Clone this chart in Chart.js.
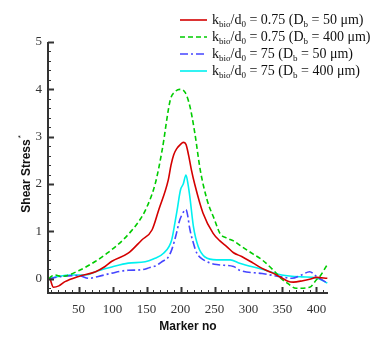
<!DOCTYPE html>
<html lang="en">
<head>
<meta charset="UTF-8">
<title>Shear Stress vs Marker no</title>
<script src="https://cdn.jsdelivr.net/npm/chart.js"></script>
<style>
    body { margin: 0; background: #fff; }
    .chart-box { position: relative; width: 374px; height: 341px; }
</style>
</head>
<body>
<div class="chart-box">
    <canvas id="shearChart" width="374" height="341"></canvas>
</div>

<script>
// series values
const redX = [8, 13, 21, 30, 50, 75, 89, 99, 123, 143, 158, 168, 182, 186, 190, 195, 200, 204, 208, 212, 216, 221, 233, 248, 258, 268, 278, 290, 307, 320, 336, 350, 358, 366, 380, 390, 400, 416];
const redY = [0.0, -0.18, -0.15, -0.06, 0.05, 0.15, 0.26, 0.37, 0.54, 0.82, 1.03, 1.46, 2.09, 2.4, 2.62, 2.76, 2.84, 2.88, 2.84, 2.6, 2.3, 1.99, 1.39, 0.96, 0.8, 0.68, 0.55, 0.47, 0.33, 0.22, 0.12, 0.01, -0.05, -0.07, -0.04, -0.01, 0.03, 0.01];

const greenX = [6, 10, 15, 25, 50, 75, 92, 116, 140, 150, 163, 173, 185, 192, 199, 207, 214, 221, 229, 239, 250, 258, 268, 278, 290, 307, 320, 336, 350, 356, 370, 390, 400, 405, 416];
const greenY = [0.0, 0.05, 0.08, 0.05, 0.17, 0.37, 0.54, 0.83, 1.24, 1.5, 2.02, 2.72, 3.78, 3.95, 4.0, 3.93, 3.63, 3.08, 2.3, 1.67, 1.25, 0.96, 0.86, 0.8, 0.68, 0.52, 0.4, 0.19, -0.02, -0.08, -0.2, -0.18, -0.02, 0.05, 0.3];

const blueX = [6, 25, 50, 65, 79, 99, 123, 143, 155, 163, 175, 180, 187, 194, 198, 202, 206, 208, 211, 213, 219, 224, 234, 253, 278, 287, 320, 349, 364, 378, 390, 400, 416];
const blueY = [0.0, 0.05, 0.07, 0.01, 0.05, 0.12, 0.18, 0.19, 0.24, 0.27, 0.38, 0.42, 0.61, 0.96, 1.2, 1.35, 1.44, 1.46, 1.3, 1.1, 0.75, 0.54, 0.4, 0.3, 0.26, 0.18, 0.11, 0.04, 0.01, 0.08, 0.15, 0.05, -0.09];

const cyanX = [6, 20, 40, 60, 79, 99, 123, 148, 160, 175, 187, 192, 195, 200, 204, 208, 211, 214, 219, 226, 236, 253, 273, 287, 320, 349, 378, 400, 416];
const cyanY = [0.0, 0.05, 0.08, 0.08, 0.17, 0.25, 0.33, 0.36, 0.42, 0.54, 0.82, 1.2, 1.45, 1.88, 2.0, 2.19, 2.0, 1.7, 1.1, 0.68, 0.46, 0.4, 0.4, 0.33, 0.2, 0.08, 0.04, 0.02, -0.09];

// legend parts
const kRatios = ['0.75', '0.75', '75', '75'];
const bubbleSizes = ['50', '400', '50', '400'];

// tick labels
const xTicks = [50, 100, 150, 200, 250, 300, 350, 400];
const yTicks = [0, 1, 2, 3, 4, 5];

const toPoints = (xs, ys) => xs.map((x, i) => ({ x: x, y: ys[i] }));

const serif = '"Liberation Serif", "Times New Roman", serif';
const sans = '"Liberation Sans", Arial, sans-serif';

// ticks pointing into the plot, axis lines, axis titles and the legend
const decorPlugin = {
    id: 'decor',
    afterDraw(chart) {
        const ctx = chart.ctx;
        const area = chart.chartArea;
        const xs = chart.scales.x;
        const ys = chart.scales.y;
        ctx.save();
        ctx.strokeStyle = '#333';

        // minor + major ticks
        for (let v = 10; v <= 410; v += 10) {
            const px = Math.round(xs.getPixelForValue(v)) + 0.5;
            const major = v % 50 === 0;
            ctx.lineWidth = major ? 2 : 1;
            ctx.beginPath();
            ctx.moveTo(px, area.bottom);
            ctx.lineTo(px, area.bottom - (major ? 6 : 3));
            ctx.stroke();
        }
        for (let i = -1; i <= 25; i++) {
            const py = Math.round(ys.getPixelForValue(i * 0.2)) + 0.5;
            const major = i % 5 === 0;
            ctx.lineWidth = major ? 2 : 1;
            ctx.beginPath();
            ctx.moveTo(area.left, py);
            ctx.lineTo(area.left + (major ? 6 : 3), py);
            ctx.stroke();
        }

        // axis lines
        ctx.lineWidth = 2;
        ctx.beginPath();
        ctx.moveTo(area.left, area.top);
        ctx.lineTo(area.left, area.bottom);
        ctx.lineTo(area.right, area.bottom);
        ctx.stroke();

        // axis titles
        ctx.fillStyle = '#111';
        ctx.font = 'bold 12px ' + sans;
        ctx.textAlign = 'center';
        ctx.textBaseline = 'middle';
        ctx.fillText('Marker no', (area.left + area.right) / 2, 327);

        ctx.save();
        ctx.translate(27, 176);
        ctx.rotate(-Math.PI / 2);
        ctx.fillText('Shear Stress', 0, 0);
        const w = ctx.measureText('Shear Stress').width;
        ctx.font = '8px ' + sans;
        ctx.textAlign = 'left';
        ctx.fillText('*', w / 2 + 1, -6);
        ctx.restore();

        // legend
        const rowY = [20, 37, 54, 71];
        chart.data.datasets.forEach((ds, i) => {
            const y = rowY[i];
            ctx.save();
            ctx.strokeStyle = ds.borderColor;
            ctx.lineWidth = ds.borderWidth;
            ctx.setLineDash(ds.borderDash || []);
            ctx.beginPath();
            ctx.moveTo(180, y);
            ctx.lineTo(207, y);
            ctx.stroke();
            ctx.restore();

            const parts = [
                ['k', 0], ['bio', 1], ['/d', 0], ['0', 1],
                [' = ' + kRatios[i] + ' (D', 0], ['b', 1],
                [' = ' + bubbleSizes[i] + ' \u03bcm)', 0]
            ];
            let x = 212;
            ctx.textAlign = 'left';
            ctx.textBaseline = 'alphabetic';
            ctx.fillStyle = '#111';
            parts.forEach(p => {
                ctx.font = (p[1] ? '9px ' : '14px ') + serif;
                ctx.fillText(p[0], x, y + 4 + (p[1] ? 3 : 0));
                x += ctx.measureText(p[0]).width;
            });
        });
        ctx.restore();
    }
};

const ctx = document.getElementById('shearChart').getContext('2d');

new Chart(ctx, {
    type: 'line',
    data: {
        datasets: [
            {
                label: 'kbio/d0 = 0.75 (Db = 50 μm)',
                data: toPoints(redX, redY),
                borderColor: '#d40000',
                borderWidth: 1.6
            },
            {
                label: 'kbio/d0 = 0.75 (Db = 400 μm)',
                data: toPoints(greenX, greenY),
                borderColor: '#00cc00',
                borderWidth: 1.6,
                borderDash: [5, 3]
            },
            {
                label: 'kbio/d0 = 75 (Db = 50 μm)',
                data: toPoints(blueX, blueY),
                borderColor: '#4646ff',
                borderWidth: 1.6,
                borderDash: [8, 3, 2, 3]
            },
            {
                label: 'kbio/d0 = 75 (Db = 400 μm)',
                data: toPoints(cyanX, cyanY),
                borderColor: '#00f0f0',
                borderWidth: 1.6
            }
        ]
    },
    options: {
        responsive: false,
        animation: false,
        devicePixelRatio: 1,
        elements: {
            point: { radius: 0 },
            line: { cubicInterpolationMode: 'monotone', fill: false }
        },
        layout: { padding: { top: 42, right: 46, left: 0, bottom: 0 } },
        plugins: {
            legend: { display: false },
            tooltip: { enabled: false }
        },
        scales: {
            x: {
                type: 'linear',
                min: 5,
                max: 417,
                grid: { display: false, drawTicks: false },
                border: { display: false },
                afterBuildTicks: s => { s.ticks = xTicks.map(v => ({ value: v })); },
                afterFit: s => { s.height = 48; },
                ticks: {
                    padding: 9,
                    color: '#333',
                    font: { family: serif, size: 13 }
                }
            },
            y: {
                min: -0.3,
                max: 5,
                grid: { display: false, drawTicks: false },
                border: { display: false },
                afterBuildTicks: s => { s.ticks = yTicks.map(v => ({ value: v })); },
                afterFit: s => { s.width = 48; },
                ticks: {
                    padding: 6,
                    color: '#333',
                    font: { family: serif, size: 13 }
                }
            }
        }
    },
    plugins: [decorPlugin]
});
</script>
</body>
</html>
